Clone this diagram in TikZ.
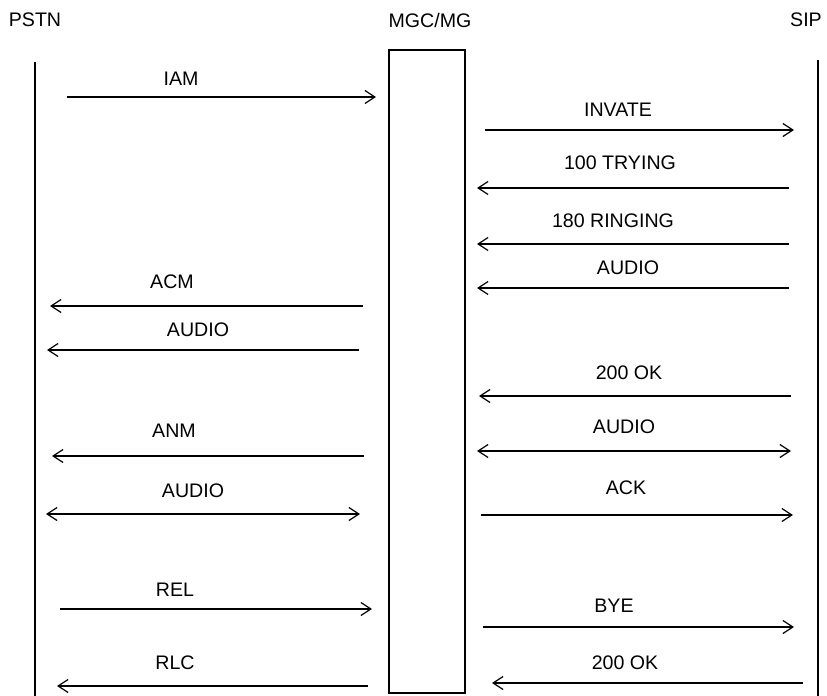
\documentclass[tikz,border=0pt]{standalone}
\usepackage{fontspec}
\setmainfont{Liberation Sans}
\usetikzlibrary{arrows.meta}

\tikzset{
  lbl/.style={font=\fontsize{9.8}{11}\selectfont, inner sep=0pt, outer sep=0pt},
  msg/.style={line width=0.7pt, -{Straight Barb[length=5pt,width=6.5pt,line width=0.6pt]}},
  msgboth/.style={line width=0.7pt, {Straight Barb[length=5pt,width=6.5pt,line width=0.6pt]}-{Straight Barb[length=5pt,width=6.5pt,line width=0.6pt]}},
  life/.style={line width=0.7pt}
}

\begin{document}
\begin{tikzpicture}[x=0.5pt,y=-0.5pt]
\useasboundingbox (0,0) rectangle (827,696);

% lifelines and box
\node[lbl] (pstn) at (35,20) {PSTN};
\node[lbl] (mgcname) at (430,20) {MGC/MG};
\node[lbl] (sip) at (806,20) {SIP};
\coordinate (pstn-top) at (35,62);
\coordinate (pstn-bot) at (35,696);
\coordinate (sip-top) at (818,60);
\coordinate (sip-bot) at (818,696);
\draw[life] (pstn-top) -- (pstn-bot);
\draw[life] (sip-top) -- (sip-bot);
\node[draw, line width=0.6pt, anchor=north west, minimum width=38pt, minimum height=321.5pt, inner sep=0pt, outer sep=0pt] (mgc) at (389,50) {};

% PSTN side
\coordinate (iam-s) at (67,97); \coordinate (iam-e) at (376,97);
\draw[msg] (iam-s) -- (iam-e);
\node[lbl] (iam) at (181,79) {IAM};

\coordinate (acm-s) at (363,306); \coordinate (acm-e) at (50,306);
\draw[msg] (acm-s) -- (acm-e);
\node[lbl] (acm) at (172,282) {ACM};

\coordinate (aud1-s) at (359,350); \coordinate (aud1-e) at (47,350);
\draw[msg] (aud1-s) -- (aud1-e);
\node[lbl] (aud1) at (198,330) {AUDIO};

\coordinate (anm-s) at (364,456); \coordinate (anm-e) at (52,456);
\draw[msg] (anm-s) -- (anm-e);
\node[lbl] (anm) at (174,431) {ANM};

\coordinate (aud2-s) at (46,514); \coordinate (aud2-e) at (360,514);
\draw[msgboth] (aud2-s) -- (aud2-e);
\node[lbl] (aud2) at (193,491) {AUDIO};

\coordinate (rel-s) at (60,609); \coordinate (rel-e) at (372,609);
\draw[msg] (rel-s) -- (rel-e);
\node[lbl] (rel) at (175,590) {REL};

\coordinate (rlc-s) at (368,686); \coordinate (rlc-e) at (57,686);
\draw[msg] (rlc-s) -- (rlc-e);
\node[lbl] (rlc) at (175,663) {RLC};

% SIP side
\coordinate (inv-s) at (485,130); \coordinate (inv-e) at (794,130);
\draw[msg] (inv-s) -- (inv-e);
\node[lbl] (inv) at (618,110) {INVATE};

\coordinate (try-s) at (789,188); \coordinate (try-e) at (477,188);
\draw[msg] (try-s) -- (try-e);
\node[lbl] (try) at (620,163) {100 TRYING};

\coordinate (ring-s) at (789,244); \coordinate (ring-e) at (477,244);
\draw[msg] (ring-s) -- (ring-e);
\node[lbl] (ring) at (613,221) {180 RINGING};

\coordinate (aud3-s) at (789,288); \coordinate (aud3-e) at (477,288);
\draw[msg] (aud3-s) -- (aud3-e);
\node[lbl] (aud3) at (628,268) {AUDIO};

\coordinate (ok1-s) at (791,396); \coordinate (ok1-e) at (479,396);
\draw[msg] (ok1-s) -- (ok1-e);
\node[lbl] (ok1) at (629,373) {200 OK};

\coordinate (aud4-s) at (477,451); \coordinate (aud4-e) at (791,451);
\draw[msgboth] (aud4-s) -- (aud4-e);
\node[lbl] (aud4) at (624,427) {AUDIO};

\coordinate (ack-s) at (481,515); \coordinate (ack-e) at (793,515);
\draw[msg] (ack-s) -- (ack-e);
\node[lbl] (ack) at (626,488) {ACK};

\coordinate (bye-s) at (483,627); \coordinate (bye-e) at (794,627);
\draw[msg] (bye-s) -- (bye-e);
\node[lbl] (bye) at (614,606) {BYE};

\coordinate (ok2-s) at (803,683); \coordinate (ok2-e) at (492,683);
\draw[msg] (ok2-s) -- (ok2-e);
\node[lbl] (ok2) at (625,663) {200 OK};
\end{tikzpicture}
\end{document}
